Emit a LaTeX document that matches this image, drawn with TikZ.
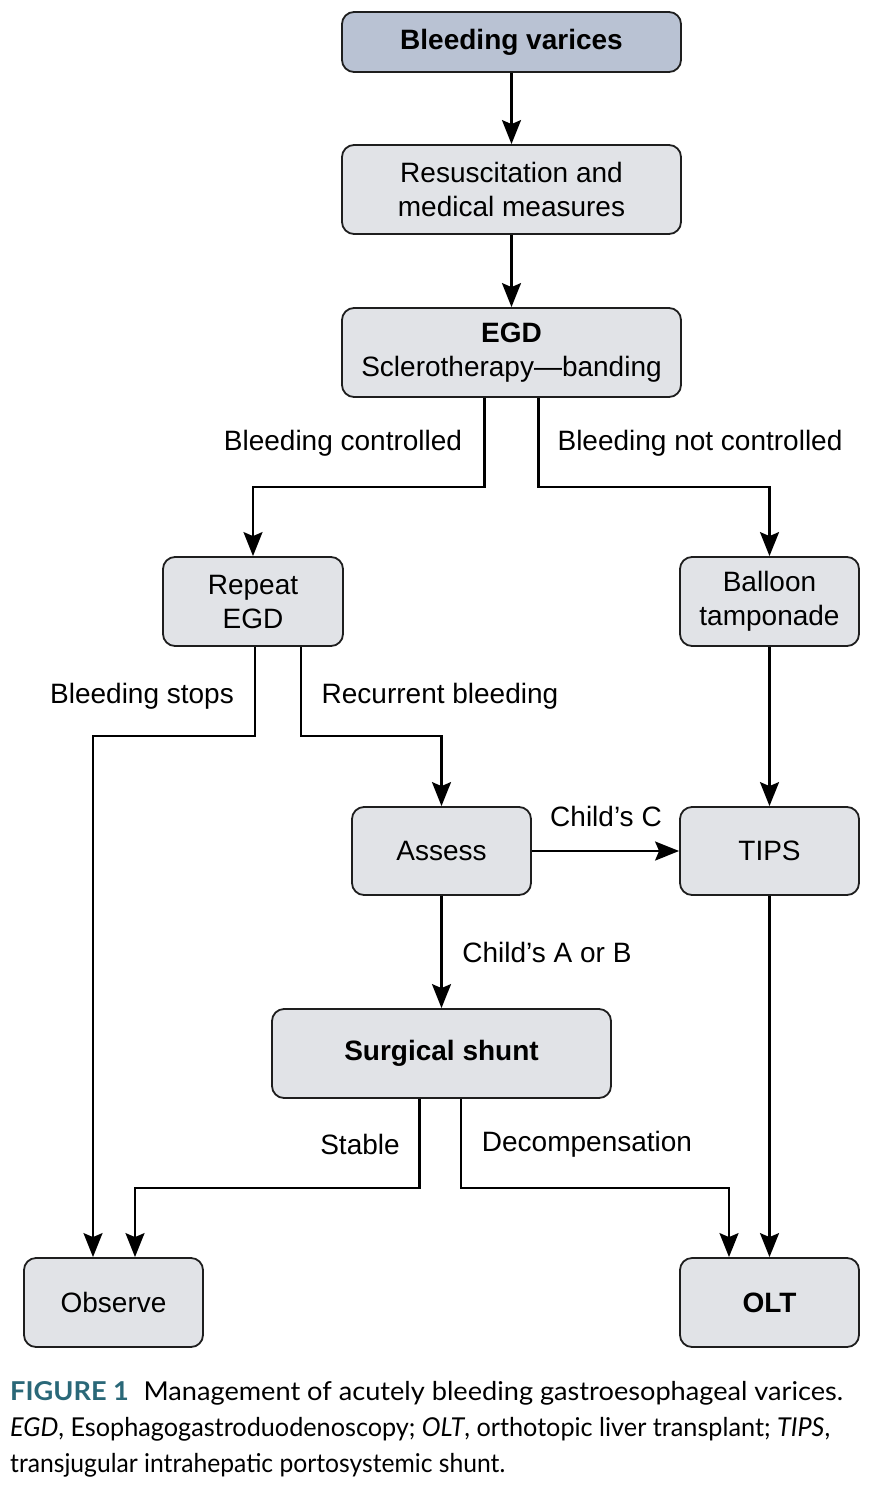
\documentclass[tikz,border=0pt]{standalone}
\usepackage{fontspec}
\usepackage{graphicx}
\setmainfont{Liberation Sans}
\newfontfamily\capfont{Lato}
\usetikzlibrary{arrows.meta}
\definecolor{topfill}{HTML}{B9C2D3}
\definecolor{boxfill}{HTML}{E1E3E7}
\definecolor{edgecol}{HTML}{1E1E1E}
\definecolor{capteal}{HTML}{2A6878}
\tikzset{
  box/.style={draw=edgecol, line width=1.8pt, rounded corners=12pt, fill=boxfill,
    inner sep=0pt, align=center, font=\fontsize{28}{34}\selectfont, text=black},
  lbl/.style={font=\fontsize{28}{34}\selectfont, inner sep=0pt, text=black},
  conn/.style={draw=black, line width=2.2pt, -{Stealth[length=24pt,width=19pt,inset=4pt]}},
  captext/.style={anchor=base west, inner sep=0pt, font=\capfont\fontsize{26}{32}\selectfont},
}
\begin{document}
\begin{tikzpicture}[x=1pt,y=-1pt]
\useasboundingbox (0,0) rectangle (876,1498);
% boxes
\node[box, fill=topfill, minimum width=339pt, minimum height=60pt, font=\fontsize{28}{34}\selectfont\bfseries] (bv) at (511.5,42) {Bleeding varices};
\node[box, minimum width=339pt, minimum height=89pt] (res) at (511.5,189.5) {Resuscitation and\\medical measures};
\node[box, minimum width=339pt, minimum height=89pt] (egd) at (511.5,352.5) {\textbf{EGD}\\Sclerotherapy—banding};
\node[box, minimum width=180pt, minimum height=89pt] (rep) at (253,601.5) {Repeat\\EGD};
\node[box, minimum width=179pt, minimum height=89pt] (bal) at (769.5,601.5) {Balloon\\tamponade};
\node[box, minimum width=179pt, minimum height=88pt] (ass) at (441.5,851) {Assess};
\node[box, minimum width=179pt, minimum height=88pt] (tips) at (769.5,851) {TIPS};
\node[box, minimum width=339pt, minimum height=89pt, font=\fontsize{28}{34}\selectfont\bfseries] (ss) at (441.5,1053.5) {Surgical shunt};
\node[box, minimum width=179pt, minimum height=89pt] (obs) at (113.5,1302.5) {Observe};
\node[box, minimum width=179pt, minimum height=89pt, font=\fontsize{28}{34}\selectfont\bfseries] (olt) at (769.5,1302.5) {OLT};
% connectors
\draw[conn] (bv.south) -- (res.north);
\draw[conn] (res.south) -- (egd.north);
\draw[conn] ([xshift=-27pt]egd.south) |- (253,487) -- (rep.north);
\draw[conn] ([xshift=27pt]egd.south) |- (769.5,487) -- (bal.north);
\draw[conn] ([xshift=2pt]rep.south) |- (93,736) -- ([xshift=-20.5pt]obs.north);
\draw[conn] ([xshift=48pt]rep.south) |- (441.5,736) -- (ass.north);
\draw[conn] (ass.east) -- (tips.west);
\draw[conn] (ass.south) -- (ss.north);
\draw[conn] (bal.south) -- (tips.north);
\draw[conn] (tips.south) -- (olt.north);
\draw[conn] ([xshift=-22pt]ss.south) |- (135,1188) -- ([xshift=21.5pt]obs.north);
\draw[conn] ([xshift=19.5pt]ss.south) |- (729,1188) -- ([xshift=-40.5pt]olt.north);
% labels
\node[lbl] (l1) at (343,443) {Bleeding controlled};
\node[lbl] (l2) at (700,443) {Bleeding not controlled};
\node[lbl] (l3) at (142,696) {Bleeding stops};
\node[lbl] (l4) at (440,696) {Recurrent bleeding};
\node[lbl] (l5) at (606,816) {Child’s C};
\node[lbl] (l6) at (547,952) {Child’s A or B};
\node[lbl] (l7) at (360,1144) {Stable};
\node[lbl] (l8) at (587,1144) {Decompensation};
% caption
\node[captext] (c1) at (10,1400)
  {\resizebox{833pt}{\height}{\textcolor{capteal}{\textbf{FIGURE 1}}\hspace{14pt}Management of acutely bleeding gastroesophageal varices.}};
\node[captext] (c2) at (10,1436)
  {\resizebox{820pt}{\height}{\textit{EGD}, Esophagogastroduodenoscopy; \textit{OLT}, orthotopic liver transplant; \textit{TIPS},}};
\node[captext] (c3) at (10,1472)
  {\resizebox{495pt}{\height}{transjugular intrahepatic portosystemic shunt.}};
\end{tikzpicture}
\end{document}
